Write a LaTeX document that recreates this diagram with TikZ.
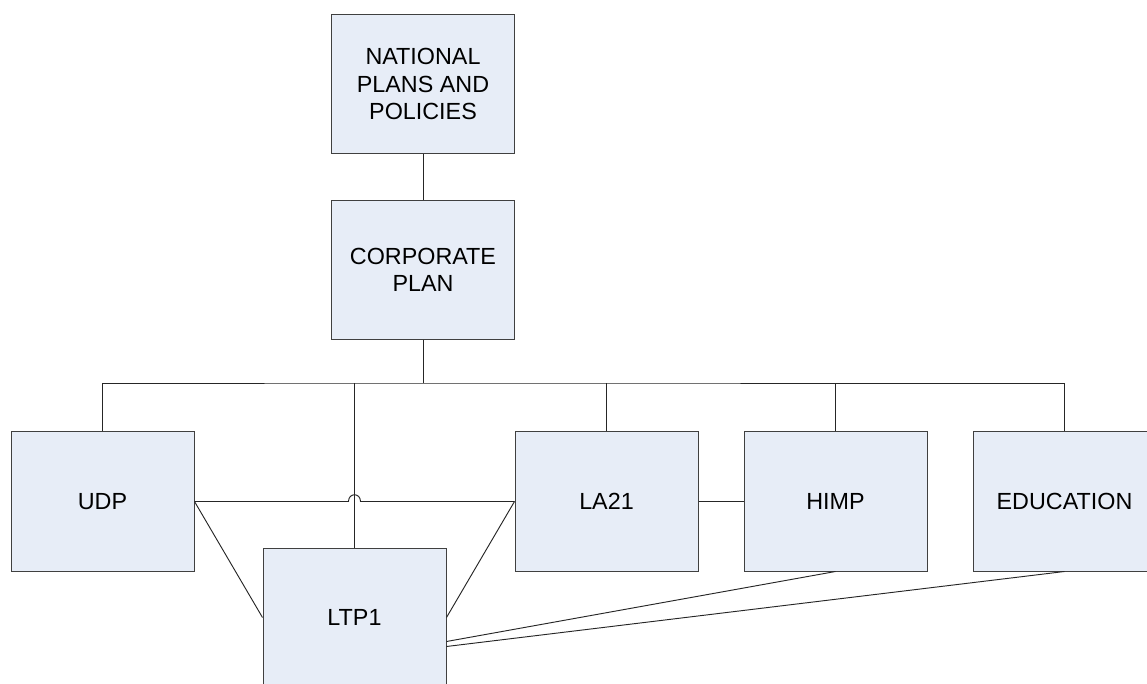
\documentclass[tikz,border=0pt]{standalone}
\usepackage{fontspec}
\setmainfont{Liberation Sans}
\usetikzlibrary{calc,positioning}
\definecolor{planFill}{HTML}{E7EDF7}
\definecolor{planGray}{HTML}{404040}
\tikzset{
  planBox/.style={
    draw=planGray,
    fill=planFill,
    line width=0.75pt,
    minimum width=137.25pt,
    minimum height=104.25pt,
    align=center,
    inner sep=0pt,
    font=\fontsize{17.5}{20.5}\selectfont
  },
  planLink/.style={draw=black!85, line width=0.7pt}
}

\begin{document}
\begin{tikzpicture}[x=0.75pt,y=-0.75pt]
  \useasboundingbox (0,0) rectangle (1147,684);
  \clip (0,0) rectangle (1147,684);

  \node[planBox] (national) at (423,84) {NATIONAL\\PLANS AND\\POLICIES};
  \node[planBox] (corporate) at (423,270) {CORPORATE\\PLAN};
  \node[planBox] (udp) at (102.5,501.5) {UDP};
  \node[planBox] (ltp) at (354.5,617.5) {LTP1};
  \node[planBox] (la21) at (606.5,501.5) {LA21};
  \node[planBox] (himp) at (835.5,501.5) {HIMP};
  \node[planBox] (education) at (1064.5,501.5) {EDUCATION};

  % tree from the top
  \coordinate (bus) at (423,383);
  \draw[planLink] (national) -- (corporate);
  \draw[planLink] (corporate) -- (bus);
  \draw[planLink] (udp.north) |- (bus) -| (education.north);
  \draw[planLink] (ltp.north) -- (ltp.north |- bus);
  \draw[planLink] (la21.north) -- (la21.north |- bus);
  \draw[planLink] (himp.north) -- (himp.north |- bus);

  % cross links, with a hop over the LTP1 drop
  \coordinate (hopL) at ($(ltp.north |- udp.east)+(-6,0)$);
  \coordinate (hopR) at ($(ltp.north |- udp.east)+(6,0)$);
  \draw[planLink] (udp.east) -- (hopL)
    .. controls ($(hopL)+(0,-9)$) and ($(hopR)+(0,-9)$) .. (hopR)
    -- (la21.west);
  \draw[planLink] (la21.east) -- (himp.west);
  \draw[planLink] (udp.east) -- (ltp.west);
  \draw[planLink] (la21.west) -- (ltp.east);
  \draw[planLink] (himp.south) -- ($(ltp.east)+(0,24)$);
  \draw[planLink] (education.south) -- ($(ltp.east)+(0,29)$);
\end{tikzpicture}
\end{document}
